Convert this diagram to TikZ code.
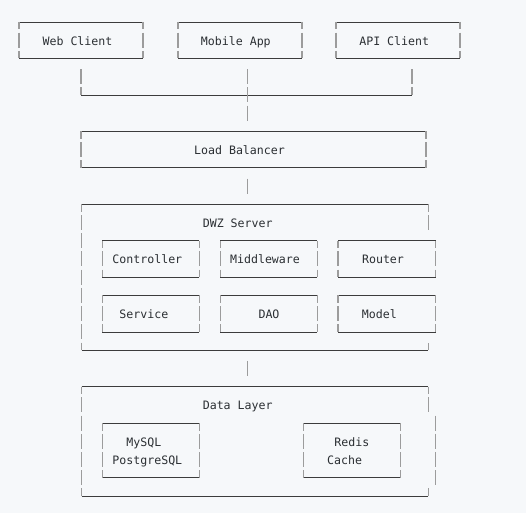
\documentclass[tikz,border=0pt]{standalone}
\usepackage{fontspec}
\setmonofont{DejaVu Sans Mono}
\usetikzlibrary{calc}
\definecolor{bg}{HTML}{F6F8FA}
\definecolor{hl}{HTML}{3C3C3C}
\definecolor{vl}{HTML}{9C9C9C}
\definecolor{tx}{HTML}{2B2F33}
\tikzset{
  hline/.style={draw=hl, line width=0.8pt},
  vline/.style={draw=vl, line width=1.1pt, dash pattern=on 15pt off 3.23pt},
  vcorner/.style={vline, dash phase=7.5pt},
  txt/.style={font=\ttfamily\fontsize{11.6pt}{14pt}\selectfont, text=tx, anchor=base, inner sep=0pt, outer sep=0pt},
  box/.style={draw=none, rectangle, inner sep=0pt, outer sep=0pt},
  openbox/.style={box, append after command={
      (\tikzlastnode.north west) edge[hline] (\tikzlastnode.north east)
      (\tikzlastnode.south west) edge[hline] (\tikzlastnode.south east)
      (\tikzlastnode.north west) edge[vcorner] (\tikzlastnode.south west)}},
  fullbox/.style={openbox, append after command={
      (\tikzlastnode.north east) edge[vcorner] (\tikzlastnode.south east)}},
}
\begin{document}
\begin{tikzpicture}[x=1pt, y=-1pt]
\fill[bg] (0,0) rectangle (526,513);
\useasboundingbox (0,0) rectangle (526,513);

% clients
\node[fullbox, minimum width=124pt, minimum height=36.46pt] (web) at (81,40.23) {};
\node[fullbox, minimum width=124pt, minimum height=36.46pt] (mob) at (240,40.23) {};
\node[fullbox, minimum width=124pt, minimum height=36.46pt] (api) at (398,40.23) {};
\node[txt] (webt) at (77.5,45.1) {Web Client};
\node[txt] (mobt) at (235.8,45.1) {Mobile App};
\node[txt] (apit) at (394.2,45.1) {API Client};

% load balancer
\node[fullbox, minimum width=345pt, minimum height=36.46pt] (lb) at (253.5,149.61) {};
\node[txt] (lbt) at (239.5,154.5) {Load Balancer};

% server
\node[openbox, minimum width=346.6pt, minimum height=145.84pt] (dwz) at (255,277.22) {};
\node[txt] (dwzt) at (237.7,227.4) {DWZ Server};
\node[fullbox, minimum width=97pt, minimum height=36.46pt] (ctrl) at (150.8,258.99) {};
\node[fullbox, minimum width=97pt, minimum height=36.46pt] (midw) at (268.8,258.99) {};
\node[fullbox, minimum width=97.7pt, minimum height=36.46pt] (rtr) at (386.85,258.99) {};
\node[fullbox, minimum width=97pt, minimum height=36.46pt] (svc) at (150.8,313.68) {};
\node[fullbox, minimum width=97pt, minimum height=36.46pt] (dao) at (268.8,313.68) {};
\node[fullbox, minimum width=97.7pt, minimum height=36.46pt] (mdl) at (386.85,313.68) {};
\node[txt] (ctrlt) at (147.3,263.9) {Controller};
\node[txt] (midwt) at (265,263.9) {Middleware};
\node[txt] (rtrt) at (383,263.9) {Router};
\node[txt] (svct) at (143.8,318.6) {Service};
\node[txt] (daot) at (269,318.6) {DAO};
\node[txt] (mdlt) at (379.3,318.6) {Model};
% server right side (only top two rows and bottom corner)
\draw[vcorner] (dwz.north east) -- ++(0,25.73);
\draw[vcorner] (dwz.south east) -- ++(0,-7.5);

% data layer
\node[openbox, minimum width=346.6pt, minimum height=109.38pt] (dl) at (255,441.29) {};
\node[txt] (dlt) at (237.7,409.7) {Data Layer};
\node[fullbox, minimum width=97pt, minimum height=54.69pt] (sql) at (150.8,450.4) {};
\node[fullbox, minimum width=97.4pt, minimum height=54.69pt] (rds) at (352,450.4) {};
\node[txt] (sqlt1) at (143.8,446.2) {MySQL};
\node[txt] (sqlt2) at (147.3,464.4) {PostgreSQL};
\node[txt] (rdst1) at (351.8,446.2) {Redis};
\node[txt] (rdst2) at (344.7,464.4) {Cache};
% data layer right side (shifted middle rows)
\draw[vcorner] (dl.north east) -- ++(0,25.73);
\coordinate (dlr) at ($(dl.north east)+(7.3,28.9)$);
\draw[vline] (dlr) -- ++(0,69.7);
\draw[vcorner] (dl.south east) -- ++(0,-7.5);

% connectors
\coordinate (jl) at (81,94.92);
\coordinate (jm) at (247.5,94.92);
\coordinate (jr) at (412,94.92);
\draw[vline] ($(web.south -| jl)+(0,10.73)$) -- (jl);
\draw[vline] ($(api.south -| jr)+(0,10.73)$) -- (jr);
\draw[hline] (jl) -- (jr);
\draw[vline] ($(mob.south -| jm)+(0,10.73)$) -- ($(lb.north -| jm)+(0,-10.73)$);
\draw[vline] ($(lb.south -| jm)+(0,10.73)$) -- ($(dwz.north -| jm)+(0,-10.73)$);
\draw[vline] ($(dwz.south -| jm)+(0,10.73)$) -- ($(dl.north -| jm)+(0,-10.73)$);
\end{tikzpicture}
\end{document}
